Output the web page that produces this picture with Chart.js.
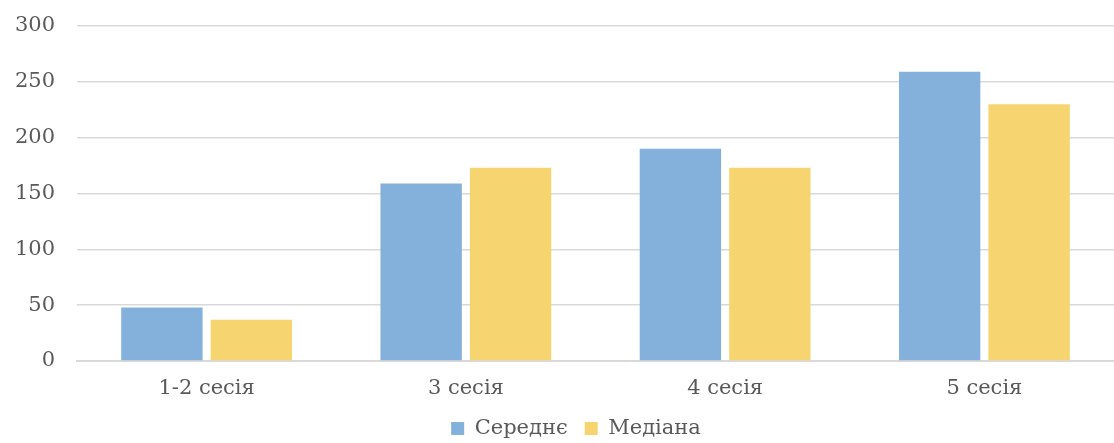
<!DOCTYPE html>
<html lang="uk">
<head>
<meta charset="utf-8">
<title>Сесії</title>
<script src="https://cdn.jsdelivr.net/npm/chart.js@4/dist/chart.umd.min.js"></script>
<style>
  html, body { margin: 0; padding: 0; background: #ffffff; }
  #wrap { width: 1114px; height: 443px; position: relative; }
</style>
</head>
<body>
<div id="wrap"><canvas id="chart"></canvas></div>
<script>
const categories = ['1-2 сесія', '3 сесія', '4 сесія', '5 сесія'];
const seriesNames = ['Середнє', 'Медіана'];
const meanValues = [48, 159, 190, 259];
const medianValues = [37, 173, 173, 230];
const yTicks = [0, 50, 100, 150, 200, 250, 300];

const textColor = '#595959';
const gridColor = '#d9d9d9';
const fontFamily = '"DejaVu Serif", "Liberation Serif", serif';

// nudges the legend row slightly to the right of the canvas centre
const legendShift = {
  id: 'legendShift',
  afterLayout(chart) {
    const lg = chart.legend;
    if (lg) { lg.left += 19; lg.right += 19; }
  }
};

new Chart(document.getElementById('chart'), {
  type: 'bar',
  data: {
    labels: categories,
    datasets: [
      { label: seriesNames[0], data: meanValues, backgroundColor: '#84b1dc' },
      { label: seriesNames[1], data: medianValues, backgroundColor: '#f6d470' }
    ]
  },
  plugins: [legendShift],
  options: {
    responsive: true,
    maintainAspectRatio: false,
    animation: false,
    events: [],
    layout: { padding: { top: 26, right: 0, bottom: -6, left: 0 } },
    datasets: {
      bar: { categoryPercentage: 0.69, barPercentage: 0.91 }
    },
    scales: {
      x: {
        grid: { display: false, drawTicks: false },
        border: { display: true, color: gridColor, width: 2 },
        afterFit: (scale) => { scale.height = 40; },
        ticks: {
          color: textColor,
          font: { family: fontFamily, size: 21 },
          padding: 15
        }
      },
      y: {
        min: yTicks[0],
        max: yTicks[yTicks.length - 1],
        afterBuildTicks: (scale) => { scale.ticks = yTicks.map(v => ({ value: v })); },
        afterFit: (scale) => {
          scale.width = 77;
          scale.paddingTop = 0;
          scale.paddingBottom = 0;
        },
        grid: { color: gridColor, lineWidth: 1.5, drawTicks: false },
        border: { display: false },
        ticks: {
          color: textColor,
          font: { family: fontFamily, size: 21 },
          padding: 22
        }
      }
    },
    plugins: {
      tooltip: { enabled: false },
      legend: {
        position: 'bottom',
        labels: {
          color: textColor,
          font: { family: fontFamily, size: 21 },
          boxWidth: 13,
          boxHeight: 13,
          padding: 17
        }
      }
    }
  }
});
</script>
</body>
</html>
